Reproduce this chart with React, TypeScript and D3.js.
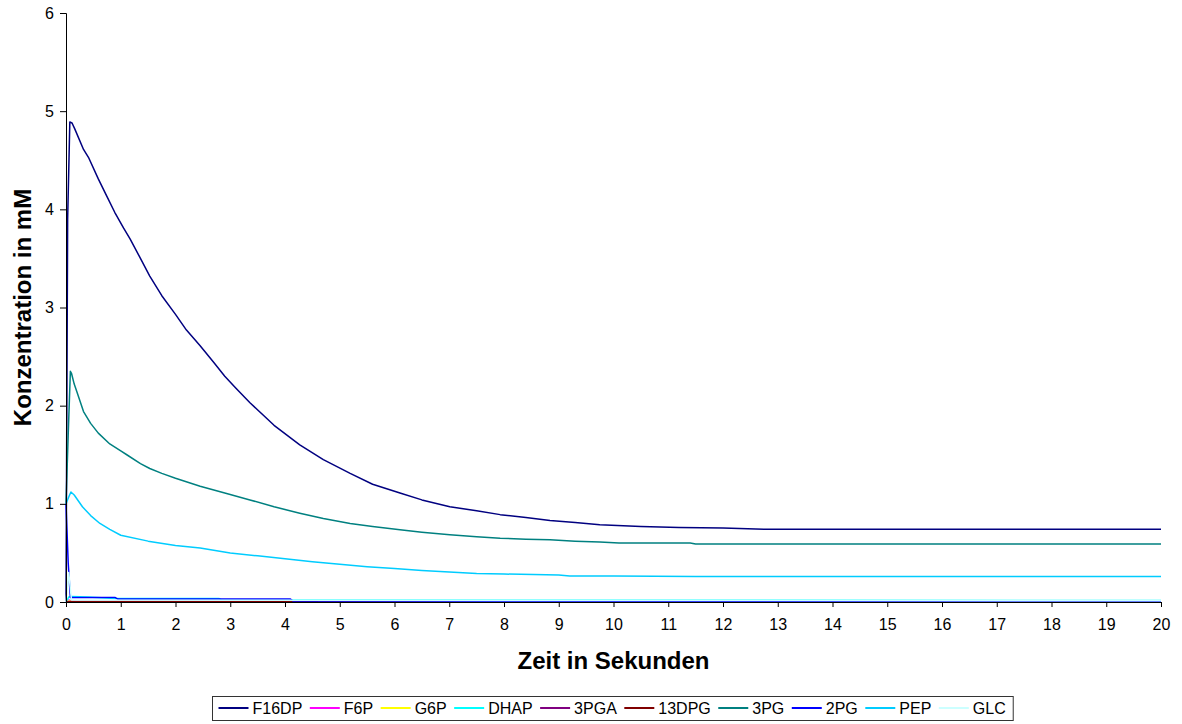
import React, { useRef, useEffect } from 'react';
import * as d3 from 'd3';

// series names + excel default line colours
const seriesNames = ['F16DP', 'F6P', 'G6P', 'DHAP', '3PGA', '13DPG', '3PG', '2PG', 'PEP', 'GLC'];
const seriesColors = ['#000080', '#FF00FF', '#FFFF00', '#00FFFF', '#800080', '#800000', '#008080', '#0000FF', '#00CCFF', '#CCFFFF'];

// time points (s) and concentrations (mM)
const f16dpT = [0, 0.03, 0.07, 0.11, 0.16, 0.32, 0.41, 0.59, 0.74, 0.89, 1.05, 1.17, 1.35, 1.53, 1.75, 2.0, 2.2, 2.45, 2.7, 2.9, 3.1, 3.36, 3.8, 4.27, 4.7, 5.19, 5.6, 6.1, 6.5, 7.01, 7.5, 7.93, 8.4, 8.84, 9.3, 9.75, 10.5, 11.2, 12.0, 12.8, 20];
const f16dpV = [0, 3.9, 4.89, 4.88, 4.82, 4.61, 4.53, 4.31, 4.14, 3.97, 3.81, 3.70, 3.51, 3.32, 3.12, 2.93, 2.77, 2.61, 2.44, 2.30, 2.18, 2.03, 1.80, 1.60, 1.45, 1.31, 1.20, 1.11, 1.04, 0.97, 0.93, 0.89, 0.86, 0.83, 0.81, 0.786, 0.77, 0.76, 0.755, 0.74, 0.74];

const f6pT = [0, 0.05, 0.1, 0.2, 20];
const f6pV = [0, 0.02, 0.01, 0.005, 0.003];

const g6pT = [0, 0.05, 0.15, 20];
const g6pV = [0, 0.01, 0.005, 0.002];

const dhapT = [0, 0.05, 0.1, 0.4, 0.9, 2.8, 2.85, 20];
const dhapV = [0, 0.05, 0.055, 0.05, 0.035, 0.035, 0.02, 0.015];

const pga3T = [0, 0.1, 20];
const pga3V = [0, 0.005, 0.003];

const dpg13T = [0, 0.1, 20];
const dpg13V = [0, 0.003, 0.002];

const pg3T = [0, 0.04, 0.08, 0.1, 0.15, 0.2, 0.32, 0.45, 0.59, 0.8, 1.0, 1.11, 1.36, 1.53, 1.75, 2.0, 2.45, 2.9, 3.36, 3.8, 4.27, 4.7, 5.19, 5.6, 6.1, 6.5, 7.01, 7.5, 7.93, 8.4, 8.84, 9.3, 9.75, 10.1, 11.4, 11.5, 20];
const pg3V = [1.0, 1.7, 2.35, 2.33, 2.22, 2.14, 1.94, 1.82, 1.72, 1.61, 1.54, 1.50, 1.41, 1.36, 1.31, 1.26, 1.18, 1.11, 1.04, 0.97, 0.905, 0.85, 0.80, 0.77, 0.735, 0.71, 0.684, 0.665, 0.65, 0.64, 0.633, 0.62, 0.61, 0.60, 0.60, 0.59, 0.59];

const pg2T = [0, 0.04, 0.08, 0.9, 0.95, 4.1, 4.15, 20];
const pg2V = [1.0, 0.4, 0.045, 0.045, 0.03, 0.03, 0.01, 0.005];

const pepT = [0, 0.05, 0.09, 0.15, 0.3, 0.45, 0.62, 0.8, 1.0, 1.5, 2.0, 2.45, 3.0, 3.5, 4.0, 4.5, 5.0, 5.5, 6.0, 6.5, 7.0, 7.5, 8.0, 9.0, 9.2, 10, 11.5, 20];
const pepV = [1.0, 1.07, 1.12, 1.09, 0.97, 0.88, 0.80, 0.74, 0.68, 0.62, 0.575, 0.55, 0.50, 0.47, 0.44, 0.41, 0.385, 0.36, 0.34, 0.32, 0.305, 0.29, 0.285, 0.275, 0.265, 0.265, 0.26, 0.26];

const glcT = [0, 0.05, 0.1, 4.2, 20];
const glcV = [0, 0.3, 0.02, 0.018, 0.012];

const seriesT = [f16dpT, f6pT, g6pT, dhapT, pga3T, dpg13T, pg3T, pg2T, pepT, glcT];
const seriesV = [f16dpV, f6pV, g6pV, dhapV, pga3V, dpg13V, pg3V, pg2V, pepV, glcV];

const xTicks = d3.range(0, 21);
const yTicks = [0, 1, 2, 3, 4, 5, 6];

const W = 1182;
const H = 724;
const FONT = 'Arial, "Liberation Sans", sans-serif';

const App: React.FC = () => {
  const svgRef = useRef<SVGSVGElement>(null);

  useEffect(() => {
    if (!svgRef.current) return;
    const svg = d3.select(svgRef.current);
    svg.selectAll('*').remove();

    const margin = { top: 13, right: 21, bottom: 122, left: 66 };

    const x = d3.scaleLinear().domain([0, 20]).range([margin.left, W - margin.right]);
    const y = d3.scaleLinear().domain([0, 6]).range([H - margin.bottom, margin.top]);

    // series lines
    const line = d3.line<[number, number]>()
      .x(d => x(d[0]))
      .y(d => y(d[1]));

    seriesNames.forEach((name, i) => {
      const pts = seriesT[i].map((t, j) => [t, seriesV[i][j]] as [number, number]);
      svg.append('path')
        .datum(pts)
        .attr('fill', 'none')
        .attr('stroke', seriesColors[i])
        .attr('stroke-width', 1.5)
        .attr('stroke-linejoin', 'round')
        .attr('d', line);
    });

    // Y axis
    svg.append('g')
      .attr('transform', `translate(${margin.left},0)`)
      .call(d3.axisLeft(y).tickValues(yTicks).tickSize(6).tickPadding(6).tickFormat(d3.format('d')))
      .call(g => g.select('.domain').attr('stroke', '#000'))
      .call(g => g.selectAll('.tick line').attr('stroke', '#000'))
      .call(g => g.selectAll('.tick text')
        .attr('font-family', FONT)
        .attr('font-size', 16)
        .attr('fill', '#000'));

    // X axis
    svg.append('g')
      .attr('transform', `translate(0,${y(0)})`)
      .call(d3.axisBottom(x).tickValues(xTicks).tickSize(5).tickPadding(12).tickFormat(d3.format('d')))
      .call(g => g.select('.domain').attr('stroke', '#000'))
      .call(g => g.selectAll('.tick line').attr('stroke', '#000'))
      .call(g => g.selectAll('.tick text')
        .attr('font-family', FONT)
        .attr('font-size', 16)
        .attr('fill', '#000'));

    // axis titles
    svg.append('text')
      .attr('x', (x(0) + x(20)) / 2)
      .attr('y', 669)
      .attr('text-anchor', 'middle')
      .attr('font-family', FONT)
      .attr('font-size', 24)
      .attr('font-weight', 'bold')
      .text('Zeit in Sekunden');

    svg.append('text')
      .attr('transform', `translate(31,${(y(0) + y(6)) / 2}) rotate(-90)`)
      .attr('text-anchor', 'middle')
      .attr('font-family', FONT)
      .attr('font-size', 24)
      .attr('font-weight', 'bold')
      .text('Konzentration in mM');

    // legend
    const legend = svg.append('g');
    const box = legend.append('rect')
      .attr('y', 696.5)
      .attr('height', 24)
      .attr('fill', '#fff')
      .attr('stroke', '#333')
      .attr('stroke-width', 1);

    const startX = 212.5;
    let cx = startX + 6;
    const ly = 708;
    seriesNames.forEach((name, i) => {
      legend.append('line')
        .attr('x1', cx).attr('x2', cx + 30)
        .attr('y1', ly).attr('y2', ly)
        .attr('stroke', seriesColors[i])
        .attr('stroke-width', 2);
      const t = legend.append('text')
        .attr('x', cx + 34)
        .attr('y', ly + 6)
        .attr('font-family', FONT)
        .attr('font-size', 16)
        .attr('fill', '#000')
        .text(name);
      const tw = (t.node() as SVGTextElement).getComputedTextLength();
      cx += 34 + tw + 7.5;
    });
    box.attr('x', startX).attr('width', cx - startX);
  }, []);

  return (
    <svg
      ref={svgRef}
      width={W}
      height={H}
      style={{ position: 'absolute', left: 0, top: 0, background: '#fff' }}
    />
  );
};

export default App;
